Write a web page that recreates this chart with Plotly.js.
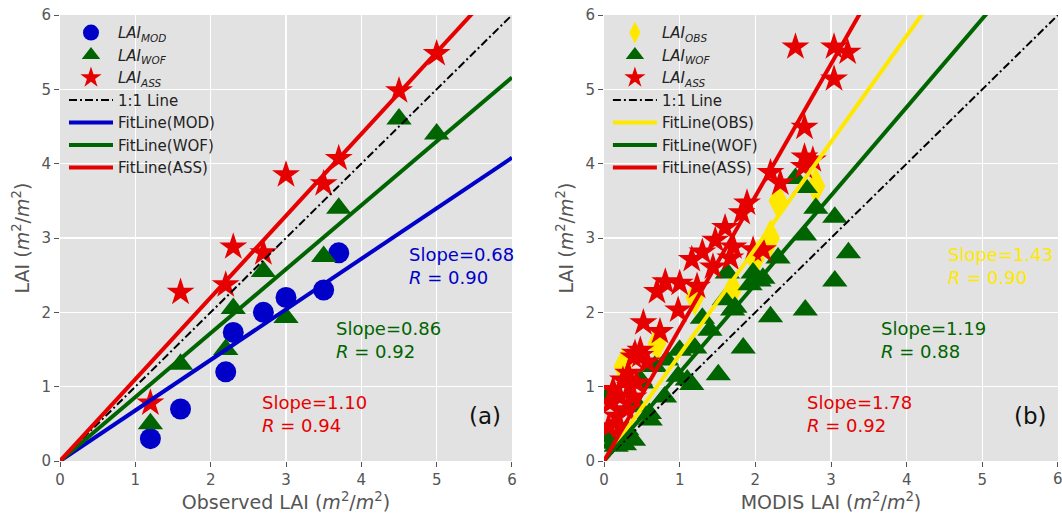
<!DOCTYPE html>
<html>
<head>
<meta charset="utf-8">
<script src="https://cdn.plot.ly/plotly-3.0.1.min.js"></script>
<style>html,body{margin:0;padding:0;background:#fff;}#chart{width:1062px;height:517px;}</style>
</head>
<body>
<div id="chart"></div>
<script>
// ---------- Panel (a): Observed LAI ----------
var obsX_mod = [1.2, 1.6, 2.2, 2.3, 2.7, 3.0, 3.5, 3.7];
var modY     = [0.3, 0.7, 1.2, 1.73, 2.0, 2.2, 2.3, 2.8];
var obsX_wof = [1.2, 1.6, 2.2, 2.3, 2.7, 3.0, 3.5, 3.7, 4.5, 5.0];
var wofY_a   = [0.5, 1.3, 1.5, 2.05, 2.55, 1.93, 2.75, 3.4, 4.6, 4.4];
var obsX_ass = [1.2, 1.6, 2.2, 2.3, 2.7, 3.0, 3.5, 3.7, 4.5, 5.0];
var assY_a   = [0.78, 2.27, 2.37, 2.88, 2.8, 3.85, 3.73, 4.07, 4.98, 5.48];
var slopes_a = {mod: 0.68, wof: 0.86, ass: 1.10};
var rvals_a  = {mod: 0.90, wof: 0.92, ass: 0.94};

// ---------- Panel (b): MODIS LAI ----------
var modisX_obs = [0.25, 0.7, 1.2, 1.7, 2.0, 2.2, 2.3, 2.8];
var obsY_b     = [1.27, 1.58, 2.2, 2.3, 2.72, 3.0, 3.5, 3.7];
var modisX_wof = [2.53, 2.66, 2.8, 3.05, 2.65, 3.23, 2.3, 3.05, 1.63, 1.97, 2.1, 1.93, 2.66, 2.2, 1.73,
                  1.84, 1.51, 1.16, 0.98, 1.7, 1.40, 1.2, 1.0, 0.8, 0.67, 0.6, 1.1, 0.61, 0.39, 0.12,
                  0.04, 0.48, 0.83, 0.3, 0.34, 0.04, 1.59, 1.3, 2.05, 0.27, 0.16, 0.45, 0.5];
var wofY_b     = [3.8, 3.68, 3.4, 3.28, 3.04, 2.8, 2.73, 2.42, 2.53, 2.53, 2.46, 2.37, 2.03, 1.94, 2.07,
                  1.52, 1.16, 1.03, 1.14, 2.03, 1.76, 1.52, 1.49, 0.86, 1.27, 0.64, 1.09, 0.55, 0.28, 0.24,
                  0.32, 1.09, 1.36, 0.42, 0.73, 0.86, 2.17, 1.92, 2.42, 0.22, 0.2, 0.74, 1.05];
var modisX_ass = [2.53, 3.04, 3.22, 3.04, 2.65, 2.65, 2.76, 2.64, 2.2, 2.33, 1.89, 1.82, 1.6, 1.47, 1.71,
                  1.3, 1.16, 1.67, 1.44, 1.97, 2.1, 0.81, 1.0, 1.23, 0.7, 0.98, 0.52, 0.74, 0.41, 0.48,
                  0.39, 0.57, 0.32, 0.43, 0.12, 0.21, 0.39, 0.08, 0.3, 0.17, 0.06, 0.21, 0.34, 0.25, 0.48];
var assY_b     = [5.57, 5.57, 5.5, 5.14, 4.49, 4.09, 4.05, 3.96, 3.88, 3.74, 3.47, 3.34, 3.14, 2.97, 2.88,
                  2.81, 2.71, 2.73, 2.61, 2.84, 2.84, 2.41, 2.39, 2.35, 2.28, 2.03, 1.86, 1.74, 1.45, 1.49,
                  1.4, 1.33, 1.18, 1.05, 0.96, 0.86, 0.86, 0.78, 0.69, 0.6, 0.46, 0.46, 1.0, 1.09, 1.42];
var slopes_b = {obs: 1.43, wof: 1.19, ass: 1.78};
var rvals_b  = {obs: 0.90, wof: 0.88, ass: 0.92};

var tickVals = [0, 1, 2, 3, 4, 5, 6];
var lineRange = [0, 6];

var cBlue = '#0000C8', cGreen = '#006400', cRed = '#E60000', cYellow = '#FFE800';

function fit(slope, xa, ya, color, name, leg) {
  return {x: lineRange, y: lineRange.map(function(v){return v*slope;}), mode: 'lines',
    line: {color: color, width: 4}, name: name, xaxis: xa, yaxis: ya, legend: leg};
}
function oneToOne(xa, ya, leg) {
  return {x: lineRange, y: lineRange, mode: 'lines', line: {color: '#000', width: 2, dash: '8px,3px,2px,3px'},
    name: '1:1 Line', xaxis: xa, yaxis: ya, legend: leg};
}
function sc(x, y, sym, size, color, name, xa, ya, leg) {
  return {x: x, y: y, mode: 'markers', marker: {symbol: sym, size: size, color: color, line: {width: 0}},
    name: name, xaxis: xa, yaxis: ya, legend: leg, cliponaxis: true};
}
function sub(s) { return '<i>LAI</i><sub><i>' + s + '</i></sub>'; }

var traces = [
  sc(obsX_mod, modY, 'circle', 21, cBlue, sub('MOD'), 'x', 'y', 'legend'),
  sc(obsX_wof, wofY_a, 'triangle-up', 22, cGreen, sub('WOF'), 'x', 'y', 'legend'),
  sc(obsX_ass, assY_a, 'star', 21, cRed, sub('ASS'), 'x', 'y', 'legend'),
  oneToOne('x', 'y', 'legend'),
  fit(slopes_a.mod, 'x', 'y', cBlue, 'FitLine(MOD)', 'legend'),
  fit(slopes_a.wof, 'x', 'y', cGreen, 'FitLine(WOF)', 'legend'),
  fit(slopes_a.ass, 'x', 'y', cRed, 'FitLine(ASS)', 'legend'),

  sc(modisX_obs, obsY_b, 'diamond-tall', 27, cYellow, sub('OBS'), 'x2', 'y2', 'legend2'),
  sc(modisX_wof, wofY_b, 'triangle-up', 22, cGreen, sub('WOF'), 'x2', 'y2', 'legend2'),
  sc(modisX_ass, assY_b, 'star', 21, cRed, sub('ASS'), 'x2', 'y2', 'legend2'),
  oneToOne('x2', 'y2', 'legend2'),
  fit(slopes_b.obs, 'x2', 'y2', cYellow, 'FitLine(OBS)', 'legend2'),
  fit(slopes_b.wof, 'x2', 'y2', cGreen, 'FitLine(WOF)', 'legend2'),
  fit(slopes_b.ass, 'x2', 'y2', cRed, 'FitLine(ASS)', 'legend2')
];

function axis(domain, titleText, anchor) {
  return {domain: domain, range: [0, 6], tickvals: tickVals, showgrid: true, gridcolor: '#ffffff', gridwidth: 1.2,
    zeroline: false, showline: false, ticks: 'outside', ticklen: 5, tickcolor: '#555', tickwidth: 1,
    tickfont: {family: 'DejaVu Sans', size: 15, color: '#555'}, anchor: anchor,
    title: {text: titleText, font: {family: 'DejaVu Sans', size: 19, color: '#555'}, standoff: 6}};
}
var unit = '(<i>m</i><sup>2</sup>/<i>m</i><sup>2</sup>)';

function ann(xref, yref, x, y, text, color, size) {
  return {xref: xref, yref: yref, x: x, y: y, text: text, showarrow: false, xanchor: 'left', yanchor: 'middle',
    align: 'left', font: {family: 'DejaVu Sans', size: size || 18, color: color}};
}

var legendCommon = {bgcolor: 'rgba(0,0,0,0)', borderwidth: 0, font: {family: 'DejaVu Sans', size: 15, color: '#222'},
  xanchor: 'left', yanchor: 'top', itemsizing: 'trace', itemwidth: 44, tracegroupgap: 0};

var layout = {
  width: 1062, height: 517,
  margin: {l: 60, r: 4, t: 15, b: 56},
  paper_bgcolor: '#ffffff', plot_bgcolor: '#E2E2E2',
  showlegend: true,
  xaxis: axis([0, 0.4529], 'Observed LAI ' + unit, 'y'),
  yaxis: axis([0, 1], 'LAI ' + unit, 'x'),
  xaxis2: axis([0.5451, 1], 'MODIS LAI ' + unit, 'y2'),
  yaxis2: axis([0, 1], 'LAI ' + unit, 'x2'),
  legend: Object.assign({x: 0.004, y: 0.997}, legendCommon),
  legend2: Object.assign({x: 0.549, y: 0.997}, legendCommon),
  annotations: [
    ann('x', 'y', 4.6, 2.62, 'Slope=' + slopes_a.mod.toFixed(2) + '<br><i>R</i> = ' + rvals_a.mod.toFixed(2), cBlue),
    ann('x', 'y', 3.64, 1.63, 'Slope=' + slopes_a.wof.toFixed(2) + '<br><i>R</i> = ' + rvals_a.wof.toFixed(2), cGreen),
    ann('x', 'y', 2.66, 0.63, 'Slope=' + slopes_a.ass.toFixed(2) + '<br><i>R</i> = ' + rvals_a.ass.toFixed(2), cRed),
    {xref: 'x', yref: 'y', x: 5.64, y: 0.6, text: '(a)', showarrow: false, font: {family: 'DejaVu Sans', size: 23, color: '#111'}},
    ann('x2', 'y2', 4.52, 2.62, 'Slope=' + slopes_b.obs.toFixed(2) + '<br><i>R</i> = ' + rvals_b.obs.toFixed(2), cYellow),
    ann('x2', 'y2', 3.64, 1.63, 'Slope=' + slopes_b.wof.toFixed(2) + '<br><i>R</i> = ' + rvals_b.wof.toFixed(2), cGreen),
    ann('x2', 'y2', 2.66, 0.63, 'Slope=' + slopes_b.ass.toFixed(2) + '<br><i>R</i> = ' + rvals_b.ass.toFixed(2), cRed),
    {xref: 'x2', yref: 'y2', x: 5.64, y: 0.6, text: '(b)', showarrow: false, font: {family: 'DejaVu Sans', size: 23, color: '#111'}},
    // last tick label of right panel, partly cut by the window edge as in the reference
    {xref: 'x2', yref: 'paper', x: tickVals[6], y: 0, yanchor: 'top', yshift: -7, text: String(tickVals[6]),
     showarrow: false, font: {family: 'DejaVu Sans', size: 15, color: '#555'}}
  ]
};

Plotly.newPlot('chart', traces, layout, {displayModeBar: false, staticPlot: true});
</script>
</body>
</html>
